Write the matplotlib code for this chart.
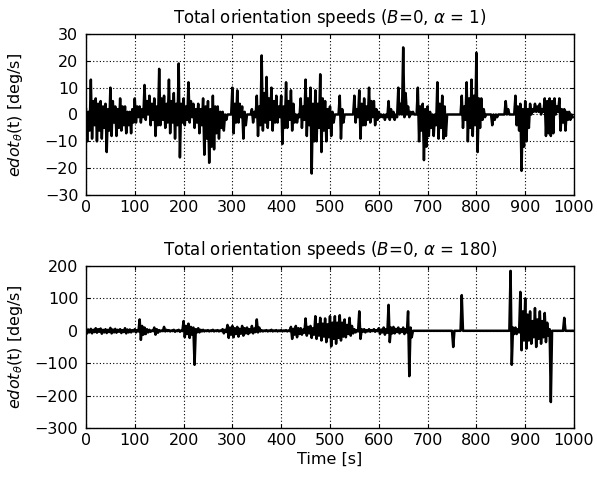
import numpy as np
import matplotlib
matplotlib.use("Agg")
import matplotlib.pyplot as plt

plt.rcParams['font.family'] = ['DejaVu Sans']
plt.rcParams['mathtext.fontset'] = 'dejavusans'

# sample times [s] (one value every 2.5 s)
time_s = np.arange(0, 1000, 2.5)

# alpha = 1 : total orientation speed [deg/s]
# (each line = 50 s, 4 samples per 10 s)
speed_alpha1 = [
    2, -10, 1, -6, 13, -9, 5, -4, 6, -10, 4, -6, 5, -9, 3, -5, 4, -14, 2, -6,
    10, -8, 5, -3, 3, -8, 2, -5, 6, -6, 3, -4, 3, -7, 1, -4, 1, -7, 2, -3,
    6, -3, 3, -1, 3, -3, 2, -1, 11, -2, 5, 0, 7, -4, 4, -2, 6, -8, 3, -4,
    17, -4, 6, -2, 7, -5, 4, -3, 13, -7, 5, -3, 8, -9, 4, -4, 19, -16, 4, -3,
    6, -4, 3, -2, 12, -3, 5, -1, 4, -5, 2, -3, 4, -7, 2, -4, 6, -15, 3, -9,
    5, -18, 2, -12, 7, -13, 3, -7, 3, -9, 1, -5, 1, -6, 0, -2, 0, 0, 0, 0,
    10, -7, 4, -3, 9, -3, 4, -1, 3, -9, 1, -4, 0, 0, 0, 0, 2, -3, 1, -1,
    7, -8, 3, -4, 22, -6, 8, -3, 14, -5, 6, -2, 10, -6, 5, -3, 7, -3, 3, -1,
    7, -11, 3, -5, 12, -5, 5, -2, 9, -6, 4, -3, 0, -3, 0, -1, 6, -5, 3, -2,
    13, -8, 6, -4, 10, -22, 4, -10, 9, -10, 4, -5, 15, -14, 6, -6, 5, -10, 2, -5,
    3, -8, 1, -3, 0, 0, 0, 0, 7, -9, 2, -3, 0, 0, 0, 0, 0, 0, 0, 0,
    7, -3, 2, -1, 9, -9, 4, -4, 6, -4, 3, -2, 10, -3, 5, -1, 5, -4, 2, -2,
    1, -1, 0, -1, 0, -2, 0, -1, 5, -2, 2, -1, 1, -2, 0, -1, 10, 0, 4, 0,
    25, -1, 8, 0, 3, -1, 1, 0, 1, 0, 0, 0, 10, -10, 3, -6, 4, -17, 2, -12,
    3, -8, 1, -5, 0, -8, 0, -4, 12, -9, 4, -5, 7, -9, 3, -8, 0, 0, 0, 0,
    0, 0, 0, 0, 0, 0, 0, 0, 7, -5, 3, -2, 12, -10, 6, -5, 13, -8, 7, -4,
    23, -14, 6, -5, 6, -2, 2, -1, 0, 0, 0, 0, 0, -4, 0, -2, 0, -1, 0, 0,
    0, 0, 0, 0, 5, 0, 2, 0, 0, 0, 0, 0, 7, -4, 3, -6, 4, -21, 2, -12,
    5, -10, 2, -5, 4, 0, 2, 1, 4, 1, 3, 1, 4, 0, 2, 1, 6, -8, 5, -7,
    6, -8, 5, -7, 6, 0, 3, 1, 6, -6, 2, -3, 2, -6, 1, -2, 1, -2, 0, -1,
]

# alpha = 180 : total orientation speed [deg/s]
speed_alpha180 = [
    8, -8, 4, -5, 6, -8, 3, -4, 8, -6, 5, -3, 7, -9, 3, -5, 5, -7, 3, -4,
    9, -8, 4, -5, 6, -6, 3, -3, 5, -7, 2, -4, 8, -8, 4, -5, 4, -5, 2, -2,
    5, -5, 2, -2, 35, -28, 15, -12, 10, -10, 5, -5, 3, -3, 1, -1, 10, -12, 5, -6,
    2, -2, 1, -1, 12, -2, 3, -1, 2, -2, 1, -1, 3, -3, 1, -1, 3, -3, 1, -1,
    30, -20, 15, -10, 22, -22, 12, -12, 10, -105, 5, -5, 8, -5, 3, -2, 3, -2, 1, -1,
    2, -2, 1, -1, 3, -2, 1, -1, 2, -2, 1, -1, 5, -8, 3, -4, 18, -22, 10, -12,
    15, -20, 8, -10, 12, -18, 6, -9, 15, -15, 8, -8, 10, -10, 5, -5, 15, -8, 7, -4,
    35, -5, 10, -2, 2, -2, 1, -1, 2, -2, 1, -1, 3, -2, 1, -1, 2, -2, 1, -1,
    2, -2, 1, -1, 2, -2, 1, -1, 12, -25, 6, -12, 15, -20, 8, -10, 8, -12, 4, -6,
    38, -15, 12, -8, 15, -22, 8, -12, 45, -25, 20, -15, 40, -30, 22, -18, 38, -35, 20, -20,
    45, -48, 25, -25, 45, -40, 25, -22, 48, -30, 25, -18, 35, -20, 18, -10, 40, -15, 15, -8,
    5, -5, 2, -2, 60, -25, 5, -3, 5, -5, 2, -2, 5, -3, 2, -1, 5, -3, 2, -1,
    8, -10, 4, -5, 10, -12, 5, -6, 80, -35, 10, -8, 12, -8, 6, -4, 10, -8, 5, -4,
    10, -10, 5, -5, 60, -140, 10, -20, 0, 0, 0, 0, 0, 0, 0, 0, 0, 0, 0, 0,
    0, 0, 0, 0, 0, 0, 0, 0, 0, 0, 0, 0, 0, 0, 0, 0, 0, 0, 0, 0,
    0, -50, 0, 0, 0, 0, 0, 0, 110, 0, 0, 0, 0, 0, 0, 0, 0, 0, 0, 0,
    0, 0, 0, 0, 0, 0, 0, 0, 0, 0, 0, 0, 0, 0, 0, 0, 0, 0, 0, 0,
    0, 0, 0, 0, 0, 0, 0, 0, 185, -105, 10, -10, 10, -10, 5, -5, 120, -60, 60, -30,
    100, -55, 50, -30, 60, -40, 30, -20, 70, -50, 35, -25, 60, -40, 30, -20, 55, -35, 25, -15,
    5, -220, 0, 0, 0, 0, 0, 0, 0, 0, 0, 0, 40, 0, 0, 0, 0, 0, 0, 0,
]

x_ticks = [0, 100, 200, 300, 400, 500, 600, 700, 800, 900, 1000]
y_ticks_top = [-30, -20, -10, 0, 10, 20, 30]
y_ticks_bot = [-300, -200, -100, 0, 100, 200]

fig = plt.figure(figsize=(5.97, 4.83), dpi=100)
ax1 = fig.add_axes([0.144, 0.5963, 0.8175, 0.3333])
ax2 = fig.add_axes([0.144, 0.1139, 0.8175, 0.3354])

panels = [
    (ax1, speed_alpha1, y_ticks_top, r'Total orientation speeds ($B$=0, $\alpha$ = 1)'),
    (ax2, speed_alpha180, y_ticks_bot, r'Total orientation speeds ($B$=0, $\alpha$ = 180)'),
]

FS = 11.5
for ax, y, yt, title in panels:
    ax.plot(time_s, y, color='black', lw=1.8)
    ax.set_xlim(0, 1000)
    ax.set_ylim(yt[0], yt[-1])
    ax.set_xticks(x_ticks)
    ax.set_yticks(yt)
    ax.grid(True, color='black', linestyle=(0, (1, 2)), lw=0.8)
    ax.tick_params(direction='in', length=3, labelsize=FS, width=0.8,
                   top=True, right=True)
    ax.tick_params(axis='y', pad=5.5)
    for s in ax.spines.values():
        s.set_linewidth(1.0)
    ax.set_title(title, fontsize=12, pad=8)
    ax.set_ylabel(r'$edot_{\theta}$(t) [deg/s]', fontsize=FS)
    ax.yaxis.set_label_coords(-0.125, 0.5)

ax2.set_xlabel('Time [s]', fontsize=FS, labelpad=3)

fig.savefig('out.png', dpi=100)
